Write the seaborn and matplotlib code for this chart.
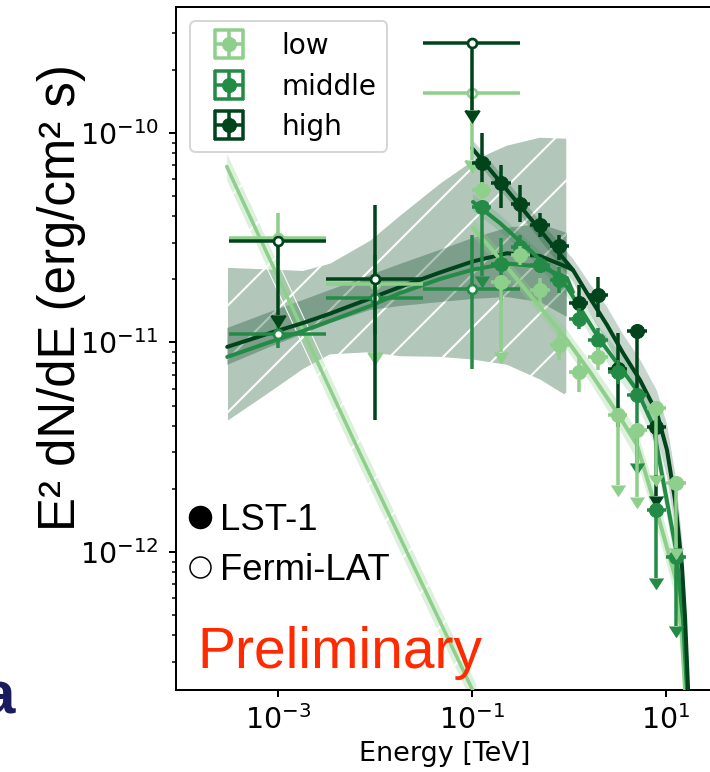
import numpy as np
import pandas as pd
import matplotlib
matplotlib.use("Agg")
import matplotlib.pyplot as plt
import seaborn as sns
from matplotlib.lines import Line2D
from matplotlib.collections import LineCollection
from matplotlib.container import ErrorbarContainer
from matplotlib.ticker import FixedLocator, NullLocator, LogLocator
from matplotlib import font_manager as fm
from matplotlib.colors import to_rgb

DPI = 320
PX = 72.0 / DPI  # points per pixel

C_LOW, C_MID, C_HIGH = "#8ed08b", "#238b45", "#00441b"

# ------------------------------------------------------------------
# DATA (log10 values)
# ------------------------------------------------------------------
# Fermi-LAT bins
fermi_logE = [-3.0, -2.0, -1.0]
fermi_logE_lo = [-3.5, -2.5, -1.5]
fermi_logE_hi = [-2.5, -1.5, -0.5]

fermi_low_logF = [-10.501, -10.721, -9.811]
fermi_low_lo = [-10.630, -11.045, -10.129]
fermi_low_hi = [-10.382, -10.721, -9.811]
fermi_low_ul = [False, True, True]

fermi_mid_logF = [-10.959, -10.788, -10.745]
fermi_mid_lo = [-11.026, -10.964, -11.126]
fermi_mid_hi = [-10.902, -10.582, -10.487]
fermi_mid_ul = [False, False, False]

fermi_high_logF = [-10.514, -10.697, -9.569]
fermi_high_lo = [-10.869, -11.370, -9.890]
fermi_high_hi = [-10.514, -10.344, -9.569]
fermi_high_ul = [True, False, True]

# LST-1 bins
lst_logE = [-0.9, -0.7, -0.5, -0.3, -0.1, 0.1, 0.3, 0.5, 0.7, 0.9, 1.1]
lst_logE_lo = [-1.0, -0.8, -0.6, -0.4, -0.2, 0.0, 0.2, 0.4, 0.6, 0.8, 1.0]
lst_logE_hi = [-0.8, -0.6, -0.4, -0.2, 0.0, 0.2, 0.4, 0.6, 0.8, 1.0, 1.2]

lst_high_logF = [-10.145, -10.237, -10.339, -10.439, -10.539, -10.810, -10.773, -11.128, -10.944, -11.402, np.nan]
lst_high_lo = [-10.301, -10.359, -10.423, -10.495, -10.606, -10.877, -10.877, -11.403, -11.259, -11.733, np.nan]
lst_high_hi = [-9.999, -10.153, -10.248, -10.383, -10.487, -10.726, -10.686, -10.953, -10.926, -11.402, np.nan]
lst_high_ul = [False, False, False, False, False, False, False, False, False, True, False]

lst_mid_logF = [-10.355, -10.625, -10.543, -10.630, -10.700, -10.889, -10.988, -11.141, -11.251, -11.800, -12.022]
lst_mid_lo = [-10.683, -10.797, -10.597, -10.668, -10.764, -10.936, -11.036, -11.198, -11.575, -12.124, -12.353]
lst_mid_hi = [-10.355, -10.501, -10.487, -10.590, -10.640, -10.835, -10.931, -11.084, -11.251, -11.800, -12.022]
lst_mid_ul = [True, False, False, False, False, False, False, False, True, True, True]

lst_low_logF = [-10.274, -10.711, -10.582, -10.749, -11.012, -11.139, -11.068, -11.346, -11.418, -11.314, -11.672]
lst_low_lo = [-10.315, -11.045, -10.630, -10.811, -11.084, -11.235, -11.131, -11.680, -11.737, -11.632, -11.981]
lst_low_hi = [-10.234, -10.711, -10.539, -10.692, -10.940, -11.060, -11.020, -11.346, -11.418, -11.314, -11.672]
lst_low_ul = [False, True, False, False, False, False, False, True, True, True, True]

# Fermi-LAT butterfly (big hatched band) and joint-fit band
band_logE = [-3.52, -3.08, -2.74, -2.46, -2.05, -1.74, -1.33, -0.99, -0.64, -0.30, -0.02]
band_up = [-10.640, -10.648, -10.655, -10.620, -10.511, -10.391, -10.239, -10.129, -10.057, -10.019, -10.024]
band_lo = [-11.379, -11.241, -11.131, -11.060, -11.050, -11.069, -11.072, -11.085, -11.110, -11.180, -11.260]
inner_up = [-10.931, -10.854, -10.797, -10.749, -10.678, -10.625, -10.558, -10.501, -10.453, -10.434, -10.477]
inner_lo = [-11.107, -11.021, -10.959, -10.907, -10.845, -10.826, -10.807, -10.792, -10.783, -10.807, -10.878]

# joint-fit curves (Fermi + LST) over the Fermi range
hump_logE = [-3.52, -3.08, -2.74, -2.46, -2.05, -1.74, -1.33, -0.99, -0.64, -0.30, -0.02, 0.04]
hump_high = [-11.021, -10.955, -10.907, -10.862, -10.790, -10.735, -10.666, -10.613, -10.574, -10.587, -10.640, -10.654]
hump_mid = [-11.069, -10.998, -10.945, -10.897, -10.826, -10.764, -10.697, -10.652, -10.623, -10.637, -10.692, -10.760]

# soft power law (low state, Fermi)
pl_logE = [-3.525, -2.186, -1.002, -0.95]
pl_logF = [-10.160, -11.497, -12.650, -12.700]
pl_up = [-10.090, -11.427, -12.580, -12.630]
pl_lo = [-10.230, -11.567, -12.720, -12.770]

# LST-1 fit curves
fit_high_logE = [-0.999, -0.639, -0.299, 0.041, 0.216, 0.391, 0.556, 0.731, 0.906, 1.009, 1.092, 1.164, 1.195, 1.226, 1.238]
fit_high_logF = [-10.072, -10.272, -10.463, -10.654, -10.788, -10.916, -11.050, -11.179, -11.337, -11.513, -11.752, -12.072, -12.310, -12.649, -13.0]
fit_high_up = [-10.03, -10.23, -10.42, -10.60, -10.72, -10.83, -10.96, -11.08, -11.23, -11.39, -11.62, -11.93, -12.17, -12.50, -12.85]
fit_high_lo = [-10.11, -10.31, -10.51, -10.71, -10.86, -11.00, -11.14, -11.28, -11.45, -11.64, -11.89, -12.22, -12.46, -12.80, -13.15]

fit_mid_logE = [-0.989, -0.711, -0.371, -0.021, 0.319, 0.525, 0.700, 0.865, 0.968, 1.102, 1.174, 1.215, 1.228]
fit_mid_logF = [-10.329, -10.430, -10.573, -10.735, -10.988, -11.117, -11.227, -11.394, -11.656, -11.990, -12.325, -12.659, -13.0]
fit_mid_up = [-10.29, -10.39, -10.535, -10.69, -10.93, -11.05, -11.16, -11.32, -11.58, -11.91, -12.24, -12.58, -12.92]
fit_mid_lo = [-10.37, -10.47, -10.61, -10.78, -11.045, -11.18, -11.29, -11.47, -11.73, -12.07, -12.41, -12.74, -13.08]

fit_low_logE = [-0.989, -0.639, -0.299, -0.021, 0.216, 0.504, 0.700, 0.886, 1.102, 1.164, 1.195, 1.210]
fit_low_logF = [-10.453, -10.640, -10.831, -10.988, -11.141, -11.341, -11.489, -11.776, -12.134, -12.420, -12.659, -13.0]
fit_low_up = [-10.41, -10.60, -10.79, -10.94, -11.09, -11.28, -11.42, -11.70, -12.05, -12.34, -12.58, -12.92]
fit_low_lo = [-10.495, -10.68, -10.87, -11.035, -11.19, -11.40, -11.56, -11.85, -12.22, -12.50, -12.74, -13.08]

state_labels = ["low", "middle", "high"]
instrument_labels = ["LST-1", "Fermi-LAT"]

# ------------------------------------------------------------------
def has_font(name):
    try:
        fm.findfont(fm.FontProperties(family=name), fallback_to_default=False)
        return True
    except Exception:
        return False

ARIAL = "Liberation Sans" if has_font("Liberation Sans") else "DejaVu Sans"
NARROW = "Liberation Sans Narrow" if has_font("Liberation Sans Narrow") else ARIAL

sns.set_theme(style="ticks")
plt.rcParams.update({
    "font.family": ["DejaVu Sans"],
    "text.color": "black",
    "axes.labelcolor": "black",
    "axes.linewidth": 2 * PX,
    "axes.edgecolor": "black",
    "lines.markersize": 14 * PX,
    "lines.markeredgewidth": 1 * PX,
    "hatch.linewidth": 2 * PX,
    "hatch.color": "white",
    "xtick.major.size": 7 * PX, "xtick.major.width": 2 * PX,
    "ytick.major.size": 7 * PX, "ytick.major.width": 2 * PX,
    "ytick.minor.size": 4 * PX, "ytick.minor.width": 1.5 * PX,
    "xtick.color": "black", "ytick.color": "black",
    "xtick.labelcolor": "black", "ytick.labelcolor": "black",
    "legend.labelcolor": "black",
})

fig = plt.figure(figsize=(710 / DPI, 772 / DPI), dpi=DPI)
ax = fig.add_axes([176 / 710, (772 - 690) / 772, (713 - 176) / 710, (690 - 7) / 772])
ax.set_xscale("log")
ax.set_yscale("log")
ax.set_facecolor("white")

p = lambda a: np.power(10.0, np.asarray(a, dtype=float))

def rgba(c, a):
    return (*to_rgb(c), a)

# bands
ax.fill_between(p(band_logE), p(band_lo), p(band_up), facecolor=rgba(C_HIGH, 0.30),
                edgecolor="white", hatch="//", linewidth=1.5 * PX, zorder=1)
ax.fill_between(p(band_logE), p(inner_lo), p(inner_up), facecolor=rgba(C_HIGH, 0.30),
                edgecolor="none", linewidth=0, zorder=1.5)
ax.fill_between(p(pl_logE), p(pl_lo), p(pl_up), facecolor=rgba(C_LOW, 0.30),
                edgecolor="white", hatch="//", linewidth=1 * PX, zorder=2)
ax.fill_between(p(fit_high_logE), p(fit_high_lo), p(fit_high_up), facecolor=rgba(C_HIGH, 0.22),
                edgecolor="none", zorder=2)
ax.fill_between(p(fit_mid_logE), p(fit_mid_lo), p(fit_mid_up), facecolor=rgba(C_MID, 0.16),
                edgecolor="none", zorder=2)
ax.fill_between(p(fit_low_logE), p(fit_low_lo), p(fit_low_up), facecolor=rgba(C_LOW, 0.30),
                edgecolor="none", zorder=2)

# curves (seaborn)
def curve(logE, logF, color, lw):
    df = pd.DataFrame({"E": p(logE), "F": p(logF)})
    sns.lineplot(data=df, x="E", y="F", ax=ax, color=color, linewidth=lw * PX,
                 sort=False, estimator=None, zorder=4)

curve(pl_logE, pl_logF, C_LOW, 3.5)
curve(hump_logE, hump_mid, C_MID, 4)
curve(hump_logE, hump_high, C_HIGH, 4)
curve(fit_low_logE, fit_low_logF, C_LOW, 4)
curve(fit_mid_logE, fit_mid_logF, C_MID, 4)
curve(fit_high_logE, fit_high_logF, C_HIGH, 4)

# points
def points(logE, logElo, logEhi, logF, logFlo, logFhi, ul, color, ms, mfc, mew, z):
    E, Elo, Ehi = p(logE), p(logElo), p(logEhi)
    F, Flo, Fhi = p(logF), p(logFlo), p(logFhi)
    ul = np.asarray(ul)
    ok = np.isfinite(F)
    for is_ul in (False, True):
        m = ok & (ul == is_ul)
        if not m.any():
            continue
        ax.errorbar(E[m], F[m], xerr=[E[m] - Elo[m], Ehi[m] - E[m]],
                    yerr=[F[m] - Flo[m], Fhi[m] - F[m]], uplims=is_ul,
                    fmt="o", color=color, ms=ms * PX, mfc=mfc, mec=color, mew=mew * PX,
                    elinewidth=3.5 * PX, capsize=0, zorder=z)

points(fermi_logE, fermi_logE_lo, fermi_logE_hi, fermi_low_logF, fermi_low_lo, fermi_low_hi,
       fermi_low_ul, C_LOW, 9, "white", 2.7, 5)
points(fermi_logE, fermi_logE_lo, fermi_logE_hi, fermi_mid_logF, fermi_mid_lo, fermi_mid_hi,
       fermi_mid_ul, C_MID, 9, "white", 2.7, 5.2)
points(fermi_logE, fermi_logE_lo, fermi_logE_hi, fermi_high_logF, fermi_high_lo, fermi_high_hi,
       fermi_high_ul, C_HIGH, 9, "white", 2.7, 5.4)

points(lst_logE, lst_logE_lo, lst_logE_hi, lst_high_logF, lst_high_lo, lst_high_hi,
       lst_high_ul, C_HIGH, 14, C_HIGH, 1, 6)
points(lst_logE, lst_logE_lo, lst_logE_hi, lst_mid_logF, lst_mid_lo, lst_mid_hi,
       lst_mid_ul, C_MID, 14, C_MID, 1, 6.2)
points(lst_logE, lst_logE_lo, lst_logE_hi, lst_low_logF, lst_low_lo, lst_low_hi,
       lst_low_ul, C_LOW, 14, C_LOW, 1, 6.4)

# axes
ax.set_xlim(10 ** -4.0474, 10 ** 1.4830)
ax.set_ylim(10 ** -12.6587, 10 ** -9.3986)
ax.xaxis.set_major_locator(FixedLocator([1e-3, 1e-1, 1e1]))
ax.xaxis.set_minor_locator(NullLocator())
ax.yaxis.set_major_locator(FixedLocator([1e-12, 1e-11, 1e-10]))
ax.yaxis.set_minor_locator(LogLocator(base=10, subs=np.arange(2, 10), numticks=20))
ax.tick_params(axis="x", which="major", labelsize=28.5 * PX, pad=8 * PX, labelcolor="black")
ax.tick_params(axis="y", which="major", labelsize=28.5 * PX, pad=10 * PX, labelcolor="black")
for s in ax.spines.values():
    s.set_linewidth(2 * PX)
    s.set_color("black")

ax.set_xlabel("Energy [TeV]", fontsize=27 * PX, labelpad=6 * PX, color="black")
ax.set_ylabel("E² dN/dE (erg/cm² s)", fontsize=51 * PX, family=NARROW, color="black")
ax.yaxis.label.set_verticalalignment("center")
ax.yaxis.set_label_coords((62 - 176) / 537, (690 - 298) / 683)

# legend of states
def eb_proxy(color, label):
    pl = Line2D([], [], ls="none", marker="o", ms=14 * PX, color=color, mec=color, mfc=color,
                mew=1 * PX)
    cap = Line2D([], [], ls="none", marker="|", ms=30 * PX, mew=3.5 * PX, color=color)
    bar = LineCollection([], colors=[color], linewidths=[3.5 * PX])
    return ErrorbarContainer((pl, (cap,), (bar,)), has_xerr=True, has_yerr=True, label=label)

h_states = [eb_proxy(c, l) for c, l in zip([C_LOW, C_MID, C_HIGH], state_labels)]
leg1 = ax.legend(handles=h_states, labels=state_labels, loc="upper left", fontsize=28 * PX,
                 labelspacing=0.44, framealpha=0.8, edgecolor="0.8", fancybox=True,
                 borderpad=0.4, handlelength=2.0, handletextpad=0.85, borderaxespad=0.5,
                 labelcolor="black")
leg1.get_frame().set_linewidth(2 * PX)
leg1.set_zorder(10)

h_inst = [Line2D([], [], ls="none", marker="o", ms=22 * PX, mfc="black", mec="black", mew=1.5 * PX),
          Line2D([], [], ls="none", marker="o", ms=21 * PX, mfc="white", mec="black", mew=1.5 * PX)]
leg2 = ax.legend(handles=h_inst, labels=instrument_labels, loc="upper left",
                 bbox_to_anchor=((188 - 176) / 537, (690 - 503) / 683),
                 prop=fm.FontProperties(family=ARIAL, size=36.5 * PX), frameon=False,
                 borderpad=0, borderaxespad=0, handlelength=0.66, handletextpad=0.22,
                 labelspacing=0.4, labelcolor="black")
leg2.set_zorder(10)
ax.add_artist(leg1)

ax.text((197 - 176) / 537, (690 - 668) / 683, "Preliminary", transform=ax.transAxes,
        color="#ff2a00", fontsize=57 * PX, family=ARIAL, ha="left", va="baseline", zorder=11)

fig.text(15 / 710, 1 - 713 / 772, "a", color="#1a1a5e", fontsize=60 * PX, family=ARIAL,
         weight="bold", ha="right", va="baseline")

fig.savefig("out.png", dpi=DPI)
